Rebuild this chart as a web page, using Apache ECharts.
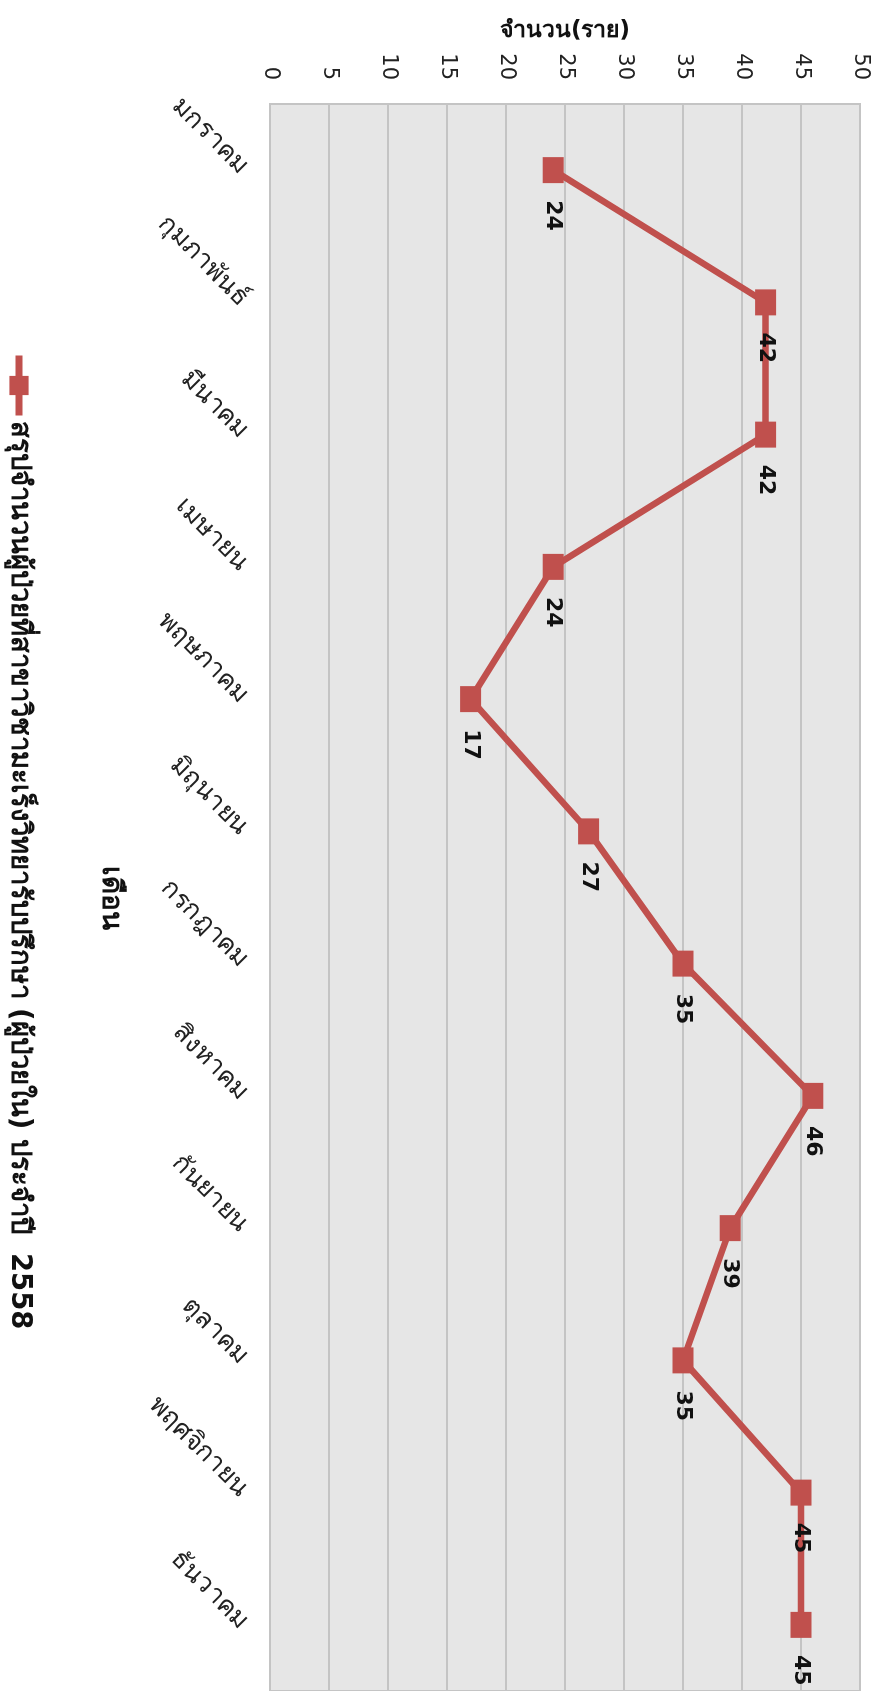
<!DOCTYPE html>
<html>
<head>
<meta charset="utf-8">
<script src="https://cdn.jsdelivr.net/npm/echarts@6/dist/echarts.min.js"></script>
<style>
html,body{margin:0;padding:0;background:#fff;overflow:hidden;width:880px;height:1691px;}
#wrap{position:absolute;left:0;top:0;width:1691px;height:880px;transform-origin:0 0;transform:translate(880px,0) rotate(90deg);}
#chart{width:1691px;height:880px;}
</style>
</head>
<body>
<div id="wrap"><div id="chart"></div></div>
<script>
const months = ['มกราคม','กุมภาพันธ์','มีนาคม','เมษายน','พฤษภาคม','มิถุนายน','กรกฎาคม','สิงหาคม','กันยายน','ตุลาคม','พฤศจิกายน','ธันวาคม'];
const patients = [24,42,42,24,17,27,35,46,39,35,45,45];
const valueTicks = [0,5,10,15,20,25,30,35,40,45,50];
const seriesName = 'สรุปจำนวนผู้ป่วยที่สาขาวิชามะเร็งวิทยารับปรึกษา (ผู้ป่วยใน) ประจำปี  2558';
const valueAxisTitle = 'จำนวน(ราย)';
const categoryAxisTitle = 'เดือน';

const FONT = "'DejaVu Sans','Noto Sans',sans-serif";
const RED = '#C0504D';

const chart = echarts.init(document.getElementById('chart'), null, {renderer:'canvas'});
chart.setOption({
  animation:false,
  backgroundColor:'#ffffff',
  textStyle:{fontFamily:FONT},
  grid:{left:104,right:0,top:20,bottom:270,show:true,backgroundColor:'#E6E6E6',borderColor:'#C4C4C4',borderWidth:2},
  legend:{
    left:347, top:842, orient:'horizontal',
    itemWidth:60, itemHeight:24, itemGap:10,
    lineStyle:{width:7},
    textStyle:{fontSize:27.5,fontWeight:'bold',color:'#111',fontFamily:FONT},
    data:[seriesName]
  },
  xAxis:{
    type:'category', data:months, boundaryGap:true,
    name:categoryAxisTitle, nameLocation:'middle', nameGap:146,
    nameTextStyle:{fontSize:28,fontWeight:'bold',color:'#111',fontFamily:FONT},
    axisLine:{show:false}, axisTick:{show:false},
    axisLabel:{rotate:45,fontSize:26,color:'#222',margin:26,interval:0,fontFamily:FONT},
    splitLine:{show:false}
  },
  yAxis:{
    type:'value', min:valueTicks[0], max:valueTicks[valueTicks.length-1], interval:valueTicks[1]-valueTicks[0],
    name:valueAxisTitle, nameLocation:'middle', nameRotate:90, nameGap:61,
    nameTextStyle:{fontSize:23,fontWeight:'bold',color:'#111',fontFamily:FONT},
    axisLine:{show:false}, axisTick:{show:false},
    axisLabel:{fontSize:21,color:'#222',margin:24,fontFamily:FONT},
    splitLine:{show:true,lineStyle:{color:'#C4C4C4',width:2}}
  },
  series:[{
    name:seriesName, type:'line', data:patients,
    symbol:'rect', symbolSize:[26,21],
    lineStyle:{color:RED,width:6.5},
    itemStyle:{color:RED},
    label:{show:true,position:'right',distance:17,fontSize:22,fontWeight:'bold',color:'#111',fontFamily:FONT}
  }]
});
</script>
</body>
</html>
